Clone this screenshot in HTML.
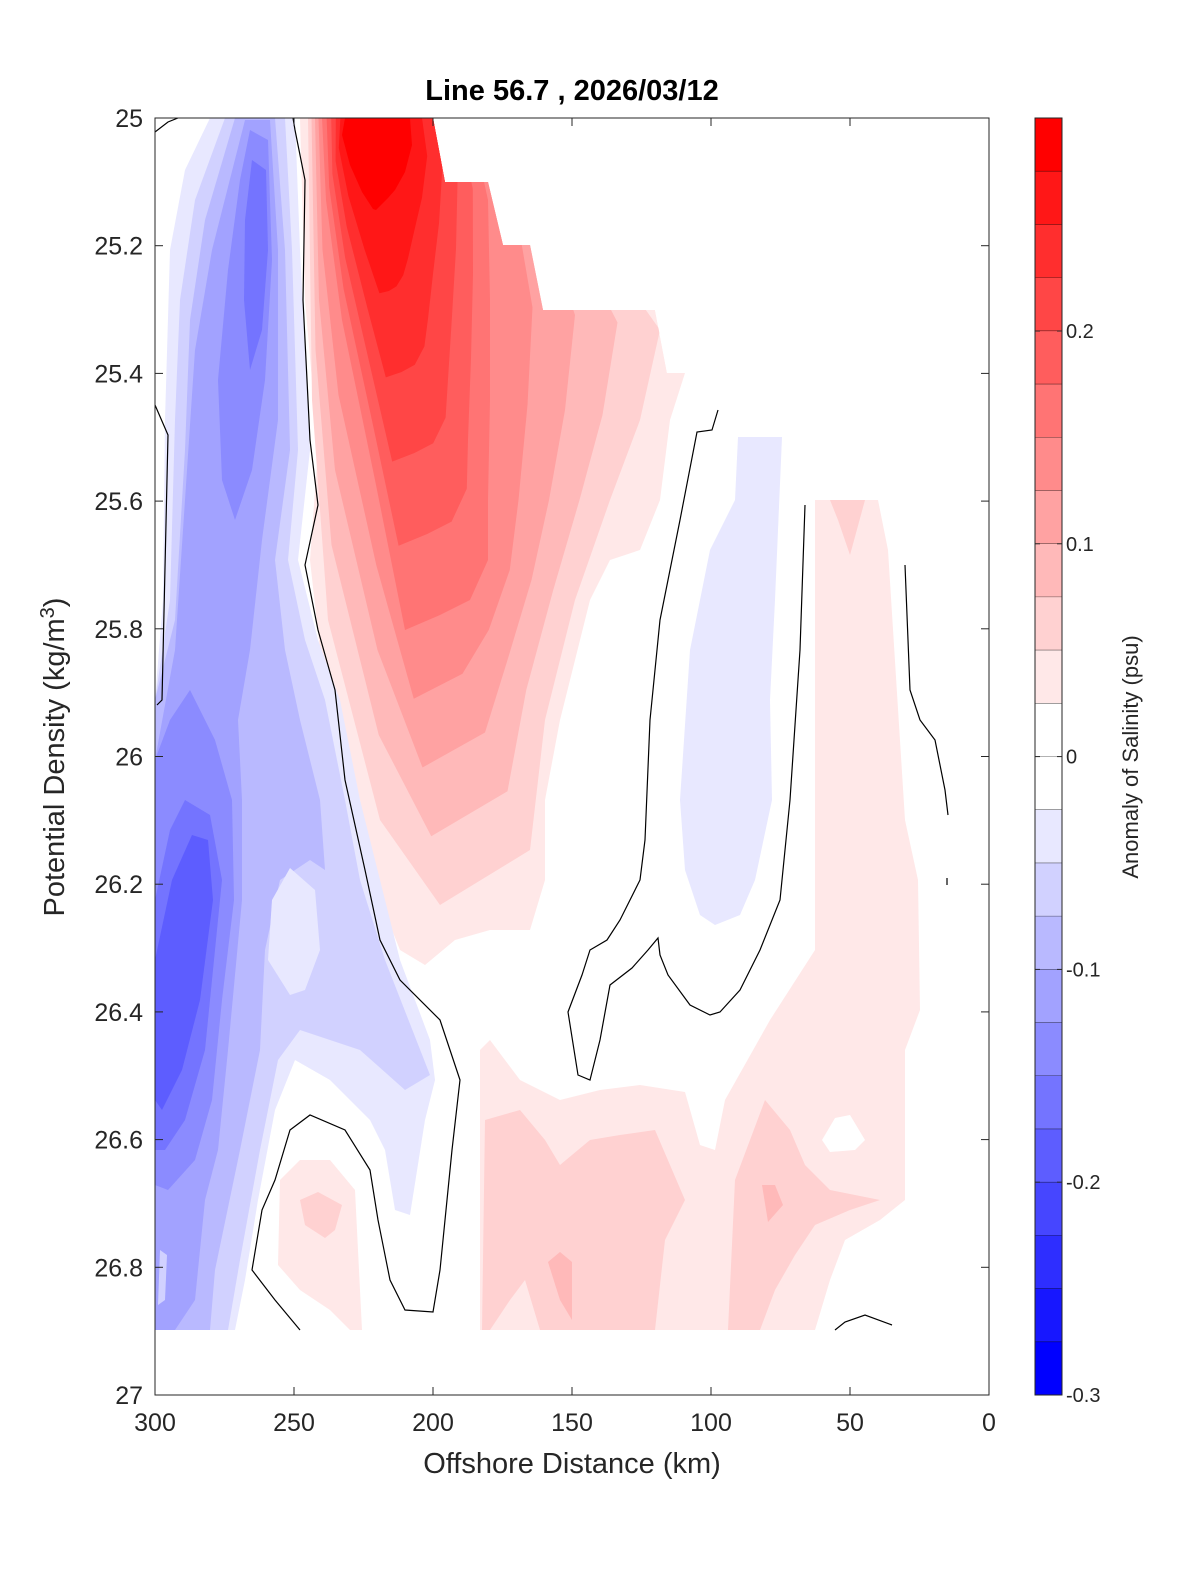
<!DOCTYPE html>
<html><head><meta charset="utf-8"><style>
html,body{margin:0;padding:0;background:#fff;width:1200px;height:1575px;overflow:hidden}
svg text{font-family:"Liberation Sans","DejaVu Sans",sans-serif;fill:#262626}
</style></head><body>
<svg id="s" width="1200" height="1575" viewBox="0 0 1200 1575" xmlns="http://www.w3.org/2000/svg">
<defs>
<clipPath id="data"><polygon points="155,118 433,118 445,182 488,182 503,245 530,245 543,310 655,310 667,373 685,373 989,373 989,1330 155,1330"/></clipPath>
<clipPath id="ax"><rect x="155" y="118" width="834" height="1277"/></clipPath>
</defs>
<rect x="155" y="118" width="834" height="1277" fill="#fff"/>
<g id="field" clip-path="url(#data)"></g>
<g id="lines" fill="none" stroke="#000" stroke-width="1.2" clip-path="url(#ax)">
<polyline points="155,405 168,435 162,700 157,705"/>
<polyline points="155,132 168,122 178,118"/>
<polyline points="293,118 295,130 305,180 303,300 310,440 318,505 305,565 318,630 335,690 345,780 365,870 380,940 400,980 440,1020 460,1080 452,1150 440,1270 433,1312 405,1310 390,1280 378,1220 370,1170 345,1130 310,1115 290,1130 275,1180 262,1210 252,1270 275,1300 300,1330"/>
<polyline points="718,410 712,430 697,432 680,520 660,620 650,720 645,840 640,880 620,920 607,940 590,950 582,975 568,1012 578,1075 590,1080 600,1040 610,985 632,968 648,950 658,938 660,955 668,975 690,1005 710,1015 720,1012 740,990 760,950 780,900 790,800 800,650 805,505"/>
<polyline points="905,565 910,690 920,720 935,740 945,790 948,815"/>
<polyline points="947,878 947,885"/>
<polyline points="835,1330 845,1322 865,1315 892,1325"/>
</g>
<rect x="155" y="118" width="834" height="1277" fill="none" stroke="#262626" stroke-width="1"/>
<g id="ticks" stroke="#262626" stroke-width="1"></g>
<g id="labels" font-size="25"></g>
<text x="572" y="100" text-anchor="middle" font-size="29" font-weight="bold" style="fill:#000">Line 56.7 , 2026/03/12</text>
<text x="572" y="1473" text-anchor="middle" font-size="29">Offshore Distance (km)</text>
<text transform="translate(64,757) rotate(-90)" text-anchor="middle" font-size="29">Potential Density (kg/m<tspan dy="-10" font-size="20">3</tspan><tspan dy="10">)</tspan></text>
<g id="cbar"></g>
<text transform="translate(1138,757) rotate(-90)" text-anchor="middle" font-size="22">Anomaly of Salinity (psu)</text>
</svg>
<script>
var NS="http://www.w3.org/2000/svg";
function el(p,t,a){var e=document.createElementNS(NS,t);for(var k in a)e.setAttribute(k,a[k]);p.appendChild(e);return e;}
function red(k){var v=Math.round(255-255*k/11);return "rgb(255,"+v+","+v+")";}
function blue(k){var v=Math.round(255-255*k/11);return "rgb("+v+","+v+",255)";}
function pts(a){return a.map(function(p){return p[0]+","+p[1]}).join(" ");}
var F=document.getElementById("field");
function poly(a,c){el(F,"polygon",{points:pts(a),fill:c});}
var B=[
[1,[[210,118],[295,118],[300,250],[310,450],[298,560],[318,640],[340,700],[360,800],[380,880],[400,960],[430,1040],[435,1080],[425,1120],[410,1215],[395,1210],[385,1150],[370,1120],[330,1080],[295,1060],[275,1110],[258,1200],[245,1280],[235,1330],[155,1330],[155,700],[163,600],[165,420],[170,250],[185,170]]],
[2,[[225,118],[285,118],[292,250],[298,450],[288,560],[305,640],[325,700],[345,800],[360,880],[385,960],[430,1075],[405,1090],[360,1050],[300,1030],[278,1060],[260,1150],[240,1260],[228,1330],[155,1330],[155,700],[170,600],[175,420],[180,300],[195,200]]],
[3,[[235,118],[275,118],[285,250],[290,450],[275,560],[285,650],[300,720],[320,800],[325,870],[310,860],[280,880],[265,950],[260,1050],[240,1150],[215,1270],[210,1330],[155,1330],[155,700],[175,620],[185,450],[190,320],[205,220]]],
[4,[[245,120],[270,120],[278,250],[278,420],[262,540],[250,650],[238,720],[242,800],[242,900],[228,1050],[218,1150],[205,1200],[195,1300],[175,1330],[155,1330],[155,760],[175,650],[185,500],[195,350],[212,250]]],
[5,[[250,130],[268,140],[272,260],[265,380],[252,470],[235,520],[222,480],[218,380],[228,270],[240,180]]],
[5,[[190,690],[215,740],[232,800],[234,900],[222,1000],[212,1100],[195,1160],[168,1190],[155,1185],[155,760],[170,720]]],
[6,[[252,160],[266,170],[268,250],[262,330],[250,370],[244,300],[245,220]]],
[6,[[185,800],[210,815],[222,880],[215,950],[205,1050],[185,1120],[165,1150],[155,1150],[155,900],[170,830]]],
[7,[[192,835],[208,840],[213,900],[200,1000],[182,1070],[162,1110],[155,1100],[155,960],[172,880]]],
[2,[[160,1250],[167,1255],[165,1300],[158,1305]]],
[1,[[290,868],[315,890],[320,950],[305,990],[290,995],[268,960],[272,900]]],
[1,[[738,437],[782,437],[775,600],[770,700],[772,800],[755,880],[740,915],[715,925],[700,915],[685,870],[680,800],[690,650],[710,550],[735,500]]]
];
poly([[300,118],[433,118],[445,182],[488,182],[503,245],[530,245],[543,310],[655,310],[667,373],[685,373],[670,420],[660,500],[640,550],[610,560],[590,600],[560,720],[545,800],[545,880],[530,930],[490,930],[455,940],[425,965],[400,950],[380,900],[360,800],[340,720],[320,650],[310,560],[318,450],[305,300]],red(1));
poly([[480,1050],[490,1040],[520,1080],[560,1100],[600,1090],[640,1085],[685,1092],[700,1145],[715,1150],[725,1100],[770,1020],[815,950],[815,500],[878,500],[888,550],[905,820],[918,880],[920,1010],[905,1050],[905,1200],[880,1220],[845,1240],[830,1280],[815,1330],[480,1330]],red(1));
poly([[280,1180],[300,1160],[330,1160],[355,1190],[362,1330],[350,1330],[330,1310],[300,1290],[278,1265]],red(1));
poly([[830,500],[865,500],[850,555],[838,520]],red(2));
poly([[485,1120],[520,1110],[545,1140],[560,1165],[590,1140],[620,1135],[655,1130],[685,1200],[665,1240],[655,1330],[540,1330],[525,1280],[510,1300],[490,1330],[482,1330]],red(2));
poly([[735,1180],[765,1100],[790,1130],[805,1165],[830,1190],[880,1200],[850,1210],[815,1225],[795,1255],[775,1290],[760,1330],[728,1330]],red(2));
poly([[300,1200],[318,1192],[342,1205],[335,1230],[325,1238],[305,1225]],red(2));
poly([[548,1262],[560,1252],[572,1262],[572,1320],[560,1300]],red(3));
poly([[762,1185],[775,1185],[783,1205],[768,1222]],red(3));
poly([[822,1140],[835,1118],[850,1115],[865,1140],[855,1150],[830,1152]],"#fff");
var O=[[308,118],[520,118],[600,245],[660,330],[640,420],[610,500],[575,600],[545,720],[530,850],[440,905],[380,820],[328,620],[312,400]];
var M=[[322,118],[470,118],[488,200],[490,300],[490,400],[488,500],[488,560],[470,600],[440,615],[405,630],[375,480],[342,320],[326,200]];
var I=[[345,118],[410,118],[412,145],[405,172],[395,190],[388,198],[382,204],[378,208],[376,210],[373,209],[362,192],[350,165],[342,135]];
function lerp(A,Bp,t){return A.map(function(p,i){return [p[0]+(Bp[i][0]-p[0])*t,p[1]+(Bp[i][1]-p[1])*t];});}
for(var k=2;k<=11;k++){var P;if(k<=6)P=lerp(O,M,(k-2)/4);else P=lerp(M,I,(k-6)/5);poly(P,red(k));}
B.forEach(function(b){poly(b[1],b[0]==0?"#fff":blue(b[0]));});
var T=document.getElementById("ticks"),L=document.getElementById("labels");
var yl=["25","25.2","25.4","25.6","25.8","26","26.2","26.4","26.6","26.8","27"];
for(var i=0;i<=10;i++){var y=118+i*127.7;el(T,"line",{x1:155,y1:y,x2:163,y2:y});el(T,"line",{x1:989,y1:y,x2:981,y2:y});
var tx=el(L,"text",{x:143,y:y+9,"text-anchor":"end"});tx.textContent=yl[i];}
var xl=["300","250","200","150","100","50","0"];
for(var i=0;i<=6;i++){var x=155+i*139;el(T,"line",{x1:x,y1:1395,x2:x,y2:1387});el(T,"line",{x1:x,y1:118,x2:x,y2:126});
var tx=el(L,"text",{x:x,y:1431,"text-anchor":"middle"});tx.textContent=xl[i];}
var C=document.getElementById("cbar");var h=1277/24;
for(var j=0;j<24;j++){var y0=118+j*h;var c;if(j<12){c=red(11-j);}else{c=blue(j-12);}
el(C,"rect",{x:1035,y:y0,width:27,height:h+0.5,fill:c});}
for(var j=1;j<24;j++){var y0=118+j*h;el(C,"line",{x1:1035,x2:1062,y1:y0,y2:y0,stroke:"#000","stroke-width":0.6,"stroke-opacity":0.6});}
el(C,"rect",{x:1035,y:118,width:27,height:1277,fill:"none",stroke:"#262626","stroke-width":1});
var cl=["0.2","0.1","0","-0.1","-0.2","-0.3"];
for(var i=0;i<6;i++){var y=331+i*212.8;el(C,"line",{x1:1062,x2:1057,y1:y,y2:y,stroke:"#262626"});el(C,"line",{x1:1035,x2:1040,y1:y,y2:y,stroke:"#262626"});
var tx=el(C,"text",{x:1066,y:y+7,"font-size":20});tx.textContent=cl[i];}
</script>
</body></html>
